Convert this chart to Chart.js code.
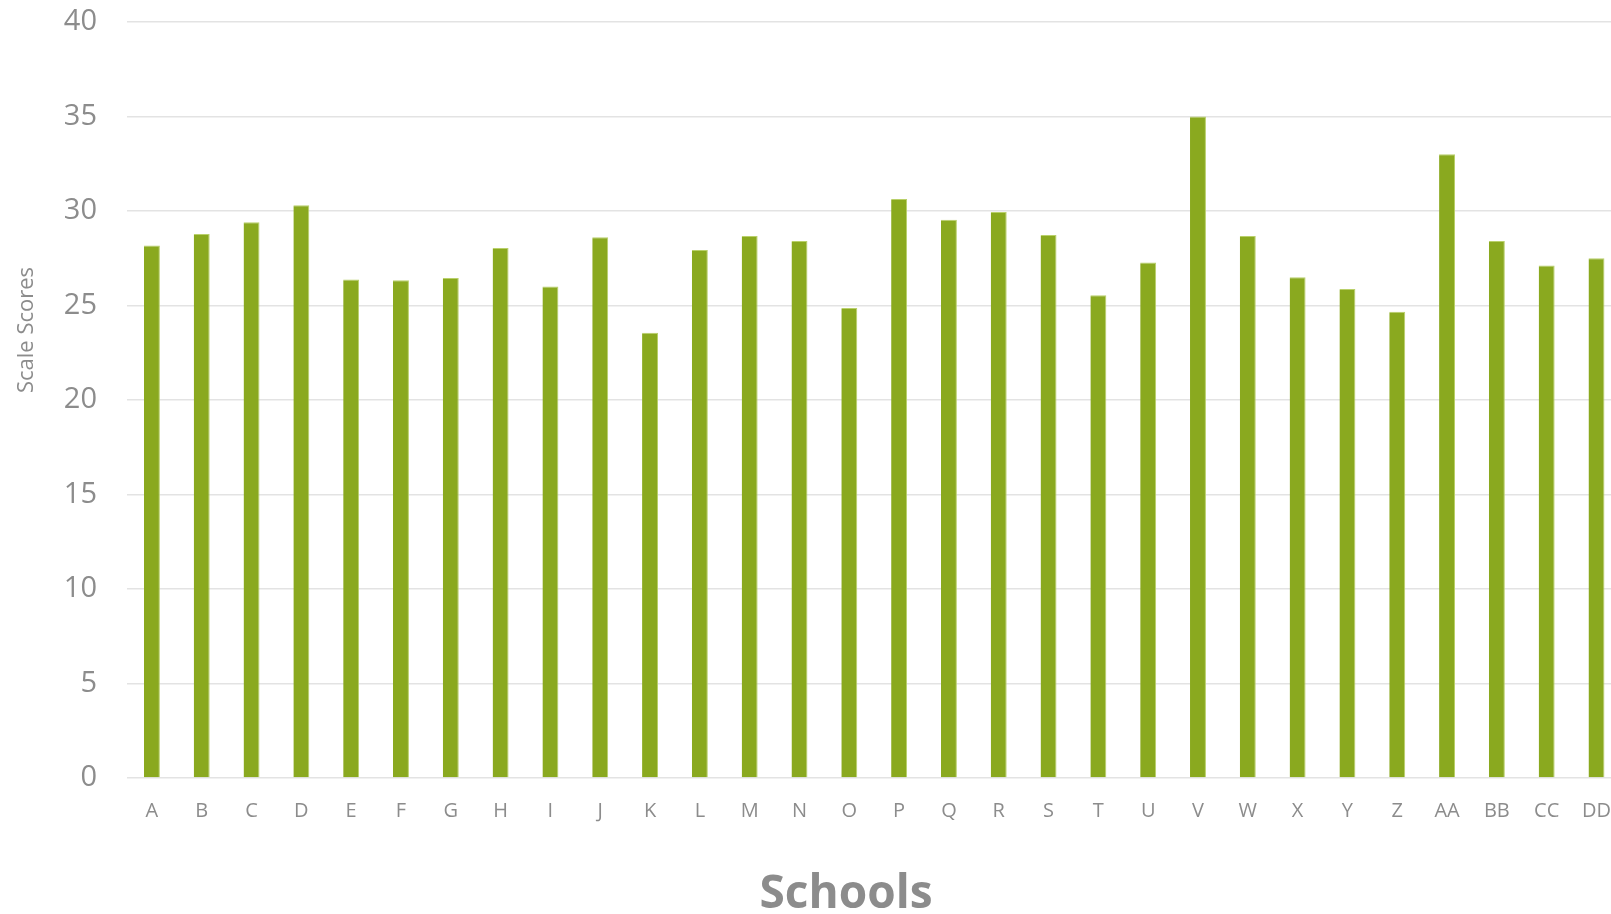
<!DOCTYPE html>
<html lang="en">
<head>
    <meta charset="UTF-8" />
    <title>Scale Scores by School</title>
    <script src="https://cdn.jsdelivr.net/npm/chart.js"></script>
    <style>
        html, body {
            margin: 0;
            padding: 0;
            background: #fff;
            overflow: hidden;
        }

        .chart-box {
            width: 1632px;
            height: 914px;
            position: relative;
        }
    </style>
</head>
<body>
    <div class="chart-box">
        <canvas id="schoolChart"></canvas>
    </div>

<script>
    const schools = ['A', 'B', 'C', 'D', 'E', 'F', 'G', 'H', 'I', 'J', 'K', 'L', 'M', 'N', 'O',
        'P', 'Q', 'R', 'S', 'T', 'U', 'V', 'W', 'X', 'Y', 'Z', 'AA', 'BB', 'CC', 'DD'];
    const scores = [28.17, 28.78, 29.4, 30.3, 26.38, 26.33, 26.46, 28.04, 26.0, 28.61,
        23.56, 27.94, 28.68, 28.41, 24.87, 30.63, 29.54, 29.95, 28.73, 25.54,
        27.27, 35.0, 28.68, 26.49, 25.87, 24.67, 33.0, 28.41, 27.11, 27.5];
    const yTicks = [0, 5, 10, 15, 20, 25, 30, 35, 40];

    const grey = '#8c8c8c';

    // axis titles sit off-centre in the original, so draw them by hand
    const axisTitles = {
        id: 'axisTitles',
        afterDraw(chart) {
            const c = chart.ctx;
            c.save();
            c.fillStyle = grey;
            c.textAlign = 'center';
            c.textBaseline = 'alphabetic';
            c.font = 'bold 46px "Open Sans"';
            c.fillText('Schools', 846, 908);

            c.translate(33, 330);
            c.rotate(-Math.PI / 2);
            c.font = '22px "Open Sans"';
            c.fillText('Scale Scores', 0, 0);
            c.restore();
        }
    };

    new Chart(document.getElementById('schoolChart'), {
        type: 'bar',
        data: {
            labels: schools,
            datasets: [{
                label: 'Scale Scores',
                data: scores,
                backgroundColor: '#8aa91f',
                borderColor: '#b9d06a',
                borderWidth: { right: 1, top: 1, left: 0 },
                barPercentage: 0.32,
                categoryPercentage: 1
            }]
        },
        options: {
            responsive: true,
            maintainAspectRatio: false,
            animation: false,
            layout: {
                padding: { top: 22, right: 0, left: 0, bottom: 0 }
            },
            plugins: {
                legend: { display: false },
                tooltip: { enabled: false }
            },
            scales: {
                y: {
                    min: 0,
                    max: 40,
                    afterBuildTicks: (scale) => {
                        scale.ticks = yTicks.map(v => ({ value: v }));
                    },
                    afterFit: (scale) => {
                        scale.width = 127;
                        // tick padding would otherwise push the plot down
                        scale.paddingTop = 0;
                        scale.paddingBottom = 0;
                    },
                    border: { display: false },
                    grid: {
                        color: '#e3e3e3',
                        lineWidth: 1.5,
                        drawTicks: false
                    },
                    ticks: {
                        color: grey,
                        padding: 30,
                        font: { family: 'Open Sans', size: 29 }
                    }
                },
                x: {
                    afterFit: (scale) => {
                        scale.height = 136;
                    },
                    border: { display: false },
                    grid: { display: false, drawTicks: false },
                    ticks: {
                        color: grey,
                        padding: 21,
                        maxRotation: 0,
                        autoSkip: false,
                        font: { family: 'Open Sans', size: 20 }
                    }
                }
            }
        },
        plugins: [axisTitles]
    });
</script>
</body>
</html>
